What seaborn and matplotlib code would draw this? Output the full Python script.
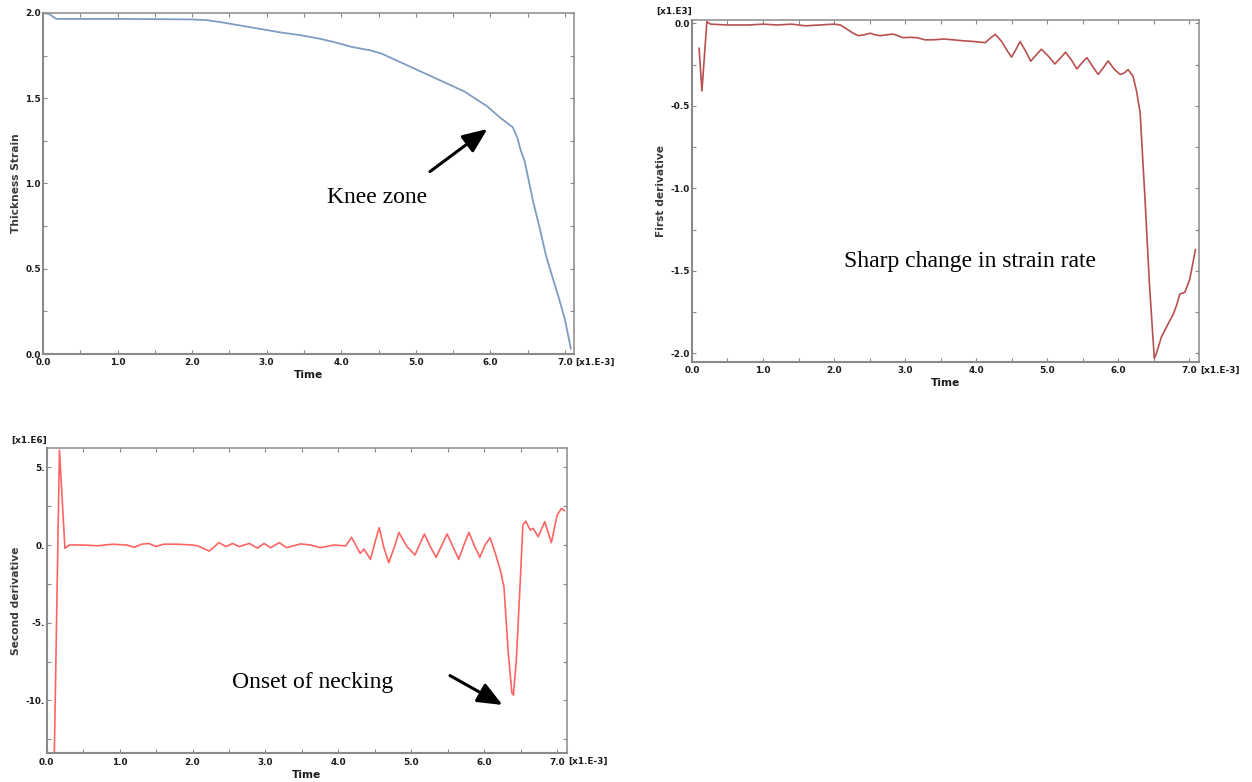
import matplotlib
matplotlib.use("Agg")
import matplotlib.pyplot as plt
from matplotlib.ticker import MultipleLocator, FuncFormatter
import numpy as np
import pandas as pd
import seaborn as sns

# Thickness strain history
strain_time = [0.0, 0.08, 0.18, 0.5, 1.0, 1.5, 2.0, 2.2, 2.4, 2.6, 2.8, 3.0, 3.2,
               3.45, 3.7, 3.9, 4.15, 4.4, 4.55, 4.7, 4.85, 5.0, 5.15, 5.3, 5.45,
               5.65, 5.86, 5.95, 6.12, 6.3, 6.36, 6.41, 6.46, 6.57, 6.66, 6.75,
               6.84, 6.93, 7.0, 7.08]
strain_value = [2.0, 1.995, 1.965, 1.965, 1.965, 1.964, 1.962, 1.958, 1.945, 1.93,
                1.915, 1.90, 1.885, 1.87, 1.85, 1.83, 1.80, 1.78, 1.76, 1.73, 1.70,
                1.67, 1.64, 1.61, 1.58, 1.54, 1.48, 1.455, 1.39, 1.33, 1.27, 1.19,
                1.13, 0.90, 0.74, 0.57, 0.44, 0.31, 0.20, 0.03]

# First derivative of thickness strain (x1.E3)
rate_time = [0.10, 0.14, 0.21, 0.26, 0.5, 0.8, 1.0, 1.2, 1.4, 1.6, 1.8, 2.0, 2.09,
             2.18, 2.27, 2.34, 2.42, 2.51, 2.58, 2.65, 2.74, 2.83, 2.90, 2.97, 3.07,
             3.17, 3.28, 3.40, 3.55, 3.68, 3.80, 3.96, 4.13, 4.20, 4.27, 4.32, 4.36,
             4.43, 4.50, 4.56, 4.62, 4.70, 4.77, 4.85, 4.92, 5.02, 5.11, 5.19, 5.26,
             5.34, 5.42, 5.49, 5.56, 5.64, 5.72, 5.79, 5.86, 5.95, 6.03, 6.09, 6.14,
             6.21, 6.26, 6.31, 6.38, 6.44, 6.51, 6.54, 6.61, 6.67, 6.73, 6.78, 6.83,
             6.87, 6.94, 7.01, 7.09]
rate_value = [-0.15, -0.41, 0.01, -0.005, -0.01, -0.01, -0.005, -0.01, -0.005, -0.015,
              -0.01, -0.005, -0.01, -0.035, -0.06, -0.075, -0.07, -0.06, -0.07, -0.075,
              -0.07, -0.065, -0.075, -0.087, -0.085, -0.087, -0.10, -0.10, -0.095,
              -0.10, -0.105, -0.11, -0.117, -0.09, -0.067, -0.09, -0.11, -0.16, -0.205,
              -0.16, -0.11, -0.17, -0.23, -0.19, -0.157, -0.20, -0.246, -0.21, -0.175,
              -0.22, -0.276, -0.24, -0.208, -0.26, -0.31, -0.27, -0.228, -0.28, -0.31,
              -0.30, -0.28, -0.32, -0.41, -0.54, -1.07, -1.57, -2.03, -2.0, -1.90,
              -1.85, -1.80, -1.76, -1.70, -1.64, -1.63, -1.55, -1.37]

# Second derivative of thickness strain (x1.E6)
accel_time = [0.105, 0.175, 0.25, 0.31, 0.5, 0.7, 0.9, 1.1, 1.2, 1.3, 1.4, 1.5, 1.6,
              1.8, 2.0, 2.07, 2.23, 2.36, 2.46, 2.55, 2.64, 2.78, 2.89, 2.98, 3.07,
              3.19, 3.29, 3.48, 3.62, 3.75, 3.94, 4.10, 4.18, 4.30, 4.35, 4.44, 4.51,
              4.56, 4.62, 4.69, 4.77, 4.83, 4.94, 5.05, 5.12, 5.18, 5.26, 5.34, 5.42,
              5.49, 5.57, 5.65, 5.72, 5.79, 5.87, 5.94, 6.01, 6.08, 6.15, 6.22, 6.27,
              6.33, 6.38, 6.40, 6.44, 6.49, 6.53, 6.57, 6.63, 6.67, 6.74, 6.83, 6.92,
              7.00, 7.06, 7.10]
accel_value = [-13.3, 6.1, -0.21, 0.0, 0.0, -0.05, 0.05, 0.0, -0.15, 0.05, 0.1, -0.1,
               0.05, 0.05, 0.0, -0.05, -0.39, 0.15, -0.1, 0.1, -0.1, 0.1, -0.2, 0.1,
               -0.17, 0.15, -0.17, 0.07, 0.0, -0.17, 0.0, -0.06, 0.49, -0.54, -0.26,
               -0.92, 0.32, 1.11, -0.1, -1.14, -0.1, 0.81, -0.1, -0.64, 0.1, 0.71,
               -0.1, -0.79, 0.0, 0.71, -0.1, -0.92, 0.0, 0.81, -0.1, -0.79, 0.0, 0.47,
               -0.5, -1.61, -2.68, -6.97, -9.54, -9.65, -7.4, -2.68, 1.29, 1.54, 0.96,
               1.07, 0.53, 1.5, 0.15, 1.93, 2.36, 2.2]

strain_df = pd.DataFrame({"Time": strain_time, "Value": strain_value})
rate_df = pd.DataFrame({"Time": rate_time, "Value": rate_value})
accel_df = pd.DataFrame({"Time": accel_time, "Value": accel_value})

sns.set_theme(style="ticks")
plt.rcParams["font.family"] = ["DejaVu Sans"]
plt.rcParams["axes.unicode_minus"] = False

SPINE = "#8a8a8a"
TICK_FS = 6.4
LABEL_FS = 7.7
NOTE_FONT = "Liberation Serif"

fig = plt.figure(figsize=(12.52, 7.82), dpi=100)
ax1 = fig.add_axes([0.0343, 0.5473, 0.4241, 0.4361])
ax2 = fig.add_axes([0.5527, 0.5375, 0.4050, 0.4369])
ax3 = fig.add_axes([0.0373, 0.0367, 0.4153, 0.3900])


def style_axes(ax, xlim, ylim, ymajor, yfmt, ylabel, mult_label=None):
    ax.set_xlim(*xlim)
    ax.set_ylim(*ylim)
    ax.xaxis.set_major_locator(MultipleLocator(1.0))
    ax.xaxis.set_minor_locator(MultipleLocator(0.5))
    ax.yaxis.set_major_locator(MultipleLocator(ymajor))
    ax.yaxis.set_minor_locator(MultipleLocator(ymajor / 2))
    ax.xaxis.set_major_formatter(FuncFormatter(lambda v, p: f"{v:.1f}"))
    ax.yaxis.set_major_formatter(FuncFormatter(yfmt))
    for side in ["left", "bottom", "top", "right"]:
        ax.spines[side].set_visible(True)
        ax.spines[side].set_color(SPINE)
        ax.spines[side].set_linewidth(1.1)
    ax.spines["left"].set_linewidth(1.5)
    ax.spines["bottom"].set_linewidth(1.5)
    ax.tick_params(which="both", direction="in", top=True, right=True,
                   color=SPINE, width=0.8, length=3,
                   labelsize=TICK_FS, labelcolor="#1a1a1a")
    ax.tick_params(axis="x", pad=3.2)
    ax.tick_params(axis="y", pad=1.5)
    for lab in ax.get_xticklabels() + ax.get_yticklabels():
        lab.set_fontweight("bold")
    ax.set_xlabel("Time", fontsize=LABEL_FS, fontweight="bold", color="#1a1a1a", labelpad=2)
    ax.set_ylabel(ylabel, fontsize=LABEL_FS, fontweight="bold", color="#3a3a3a", labelpad=3)
    ax.text(1.003, -0.012, "[x1.E-3]", transform=ax.transAxes, ha="left", va="top",
            fontsize=TICK_FS, fontweight="bold", color="#1a1a1a")
    if mult_label:
        ax.text(0.0, 1.012, mult_label, transform=ax.transAxes, ha="right", va="bottom",
                fontsize=TICK_FS, fontweight="bold", color="#1a1a1a")
    ax.grid(False)


sns.lineplot(data=strain_df, x="Time", y="Value", ax=ax1, color="#7f9cc2",
             linewidth=1.3, estimator=None, sort=False)
style_axes(ax1, (0, 7.12), (0, 2.0), 0.5, lambda v, p: f"{v:.1f}", "Thickness Strain")

sns.lineplot(data=rate_df, x="Time", y="Value", ax=ax2, color="#b85050",
             linewidth=1.2, estimator=None, sort=False)
style_axes(ax2, (0, 7.14), (-2.05, 0.02), 0.5, lambda v, p: f"{v:.1f}",
           "First derivative", "[x1.E3]")

sns.lineplot(data=accel_df, x="Time", y="Value", ax=ax3, color="#ff6464",
             linewidth=1.2, estimator=None, sort=False)
style_axes(ax3, (0, 7.13), (-13.4, 6.22), 5.0, lambda v, p: f"{int(round(v))}.",
           "Second derivative", "[x1.E6]")

arrow = dict(arrowstyle="-|>,head_length=1.0,head_width=0.42", color="black",
             lw=2.2, mutation_scale=15, shrinkA=0, shrinkB=0)

ax1.annotate("", xy=(5.96, 1.32), xytext=(5.19, 1.07), arrowprops=arrow)
ax1.text(4.48, 0.92, "Knee zone", ha="center", va="center", fontsize=17,
         family=NOTE_FONT, color="black")

ax2.text(3.92, -1.444, "Sharp change in strain rate", ha="center", va="center",
         fontsize=17, family=NOTE_FONT, color="black")

ax3.annotate("", xy=(6.25, -10.29), xytext=(5.53, -8.4), arrowprops=arrow)
ax3.text(3.64, -8.87, "Onset of necking", ha="center", va="center", fontsize=17,
         family=NOTE_FONT, color="black")

for ax in (ax1, ax2, ax3):
    leg = ax.get_legend()
    if leg:
        leg.remove()

fig.savefig("out.png", dpi=100, facecolor="white")
